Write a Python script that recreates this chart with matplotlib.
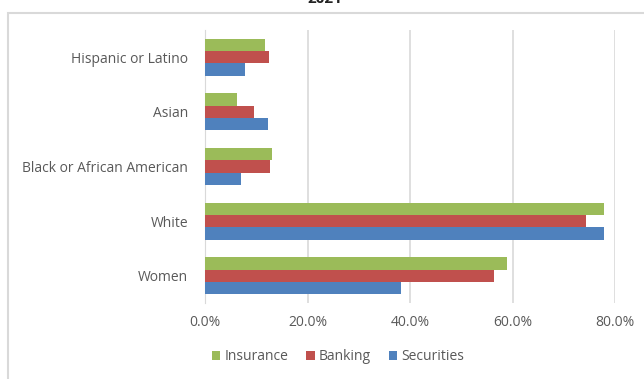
import numpy as np
import matplotlib.pyplot as plt
from matplotlib.patches import Rectangle
from matplotlib.ticker import FuncFormatter

categories = ['Women', 'White', 'Black or African American', 'Asian', 'Hispanic or Latino']
insurance = [58.9, 77.9, 13.1, 6.3, 11.7]
banking = [56.3, 74.3, 12.7, 9.6, 12.5]
securities = [38.2, 77.9, 7.1, 12.2, 7.8]
series = ['Insurance', 'Banking', 'Securities']
colors = ['#9BBB59', '#C0504D', '#4F81BD']

plt.rcParams['font.family'] = ['Open Sans', 'DejaVu Sans']

fig = plt.figure(figsize=(6.44, 3.79), dpi=100)
ax = fig.add_axes([205/644, 1 - 303/379, 410/644, 273/379])

# chart border (cut off at right/bottom like the screenshot)
fig.patches.append(Rectangle((7.5/644, -0.1), 1.2, 1 - 13/379 + 0.1, transform=fig.transFigure,
                             fill=False, edgecolor='#D9D9D9', linewidth=1.5))
fig.text(325/644, 1 + 1/379, '2021', ha='center', va='center', fontsize=11,
         fontweight='bold', color='#222222')

y = np.arange(len(categories))
h = 0.226
for i, (vals, name, c) in enumerate(zip([insurance, banking, securities], series, colors)):
    ax.barh(y + (1 - i) * h, vals, height=h, color=c, label=name, zorder=3)

ax.set_xlim(0, 80)
ax.set_ylim(-0.5, len(categories) - 0.5)
ax.set_xticks([0, 20, 40, 60, 80])
ax.xaxis.set_major_formatter(FuncFormatter(lambda v, p: f'{v:.1f}%'))
ax.set_yticks(y)
ax.set_yticklabels(categories)
ax.grid(axis='x', color='#D9D9D9', linewidth=1.2, zorder=0)
for s in ['top', 'right', 'bottom']:
    ax.spines[s].set_visible(False)
ax.spines['left'].set_color('#D9D9D9')
ax.tick_params(axis='both', length=0, labelsize=10, colors='#595959')
ax.tick_params(axis='x', pad=9)
ax.tick_params(axis='y', pad=12)

ax.legend(loc='center', bbox_to_anchor=(338/644, 1 - 357/379), bbox_transform=fig.transFigure,
          ncol=3, frameon=False, fontsize=10, handlelength=0.6, handleheight=0.6,
          handletextpad=0.3, columnspacing=1.3, labelcolor='#595959')

fig.savefig('out.png', dpi=100)
